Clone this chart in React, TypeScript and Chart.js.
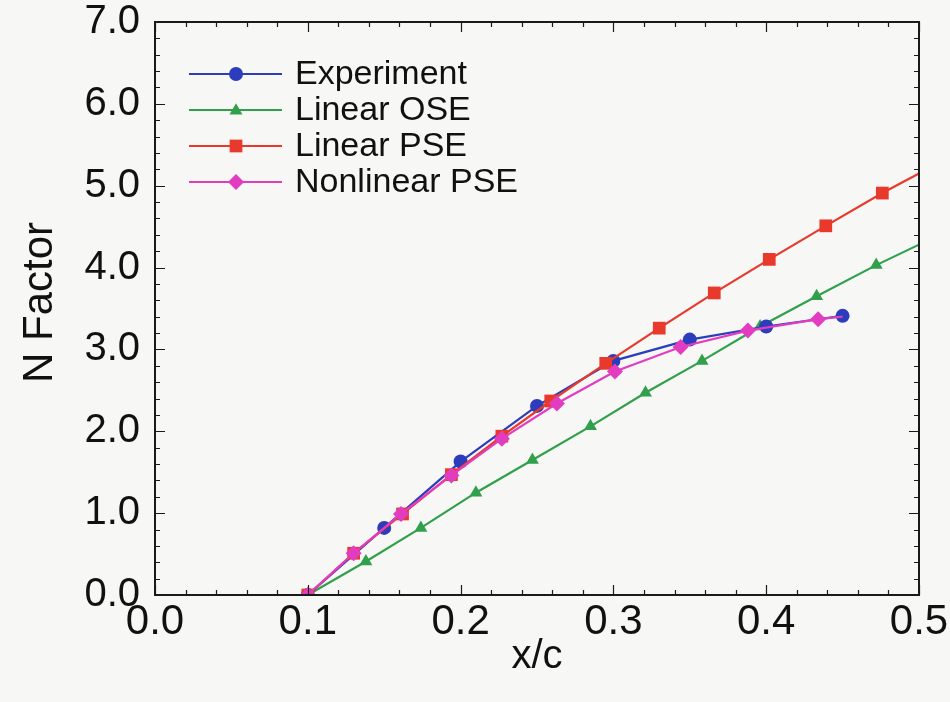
import React, { useEffect, useRef } from "react";
import { Chart, registerables } from "chart.js";

Chart.register(...registerables);

const expX = [0.1, 0.15, 0.2, 0.25, 0.3, 0.35, 0.4, 0.45];
const expY = [0, 0.82, 1.63, 2.31, 2.86, 3.12, 3.28, 3.41];

const oseX = [0.1, 0.138, 0.174, 0.21, 0.247, 0.285, 0.321, 0.358, 0.396, 0.433, 0.472, 0.5];
const oseY = [0, 0.41, 0.82, 1.25, 1.65, 2.06, 2.47, 2.86, 3.28, 3.65, 4.03, 4.28];

const lpseX = [0.1, 0.13, 0.162, 0.194, 0.227, 0.259, 0.295, 0.33, 0.366, 0.402, 0.439, 0.476, 0.5];
const lpseY = [0, 0.51, 0.99, 1.47, 1.94, 2.37, 2.83, 3.26, 3.69, 4.1, 4.51, 4.91, 5.15];

const npseX = [0.1, 0.13, 0.161, 0.194, 0.227, 0.263, 0.301, 0.344, 0.388, 0.434, 0.45];
const npseY = [0, 0.51, 0.99, 1.46, 1.91, 2.34, 2.73, 3.03, 3.23, 3.37, 3.4];

const seriesNames = ["Experiment", "Linear OSE", "Linear PSE", "Nonlinear PSE"];
const xTickValues = [0, 0.1, 0.2, 0.3, 0.4, 0.5];
const yTickValues = [0, 1, 2, 3, 4, 5, 6, 7];
const xTitle = "x/c";
const yTitle = "N Factor";

const FONT = "'Liberation Sans', Arial, Helvetica, sans-serif";

type SeriesStyle = { color: string; shape: string; radius: number; lastBare: boolean; order: number };
const styles: SeriesStyle[] = [
  { color: "#2b3cbc", shape: "circle", radius: 7, lastBare: false, order: 2 },
  { color: "#31a04c", shape: "triangle", radius: 7.5, lastBare: true, order: 3 },
  { color: "#e8392c", shape: "rect", radius: 9, lastBare: true, order: 1 },
  { color: "#e23dc0", shape: "rectRot", radius: 8, lastBare: true, order: 0 },
];

function pts(xs: number[], ys: number[]) {
  return xs.map((x, i) => ({ x, y: ys[i] }));
}

function drawMarker(ctx: CanvasRenderingContext2D, shape: string, x: number, y: number, r: number, color: string) {
  ctx.save();
  ctx.fillStyle = color;
  ctx.beginPath();
  if (shape === "circle") {
    ctx.arc(x, y, r, 0, Math.PI * 2);
  } else if (shape === "triangle") {
    const a = (Math.PI * 2) / 3;
    for (let k = 0; k < 3; k++) {
      const ang = -Math.PI / 2 + k * a;
      const px = x + r * Math.cos(ang);
      const py = y + r * Math.sin(ang) + r * 0.1;
      if (k === 0) ctx.moveTo(px, py);
      else ctx.lineTo(px, py);
    }
    ctx.closePath();
  } else if (shape === "rect") {
    const s = r * Math.SQRT1_2;
    ctx.rect(x - s, y - s, 2 * s, 2 * s);
  } else {
    ctx.moveTo(x, y - r);
    ctx.lineTo(x + r, y);
    ctx.lineTo(x, y + r);
    ctx.lineTo(x - r, y);
    ctx.closePath();
  }
  ctx.fill();
  ctx.restore();
}

const framePlugin = {
  id: "frameTicks",
  afterDraw(chart: any) {
    const ctx: CanvasRenderingContext2D = chart.ctx;
    const { left, right, top, bottom } = chart.chartArea;
    const xs = chart.scales.x;
    const ys = chart.scales.y;
    ctx.save();
    ctx.strokeStyle = "#1a1a1a";
    ctx.lineWidth = 1.2;
    for (let i = 0; i <= 25; i++) {
      const v = i * 0.02;
      const px = Math.round(xs.getPixelForValue(v)) + 0.5;
      const len = i % 5 === 0 ? 10 : 5;
      ctx.beginPath();
      ctx.moveTo(px, bottom);
      ctx.lineTo(px, bottom - len);
      ctx.moveTo(px, top);
      ctx.lineTo(px, top + len);
      ctx.stroke();
    }
    for (let i = 0; i <= 35; i++) {
      const v = i * 0.2;
      const py = Math.round(ys.getPixelForValue(v)) + 0.5;
      const len = i % 5 === 0 ? 10 : 5;
      ctx.beginPath();
      ctx.moveTo(left, py);
      ctx.lineTo(left + len, py);
      ctx.moveTo(right, py);
      ctx.lineTo(right - len, py);
      ctx.stroke();
    }
    ctx.lineWidth = 2;
    ctx.strokeRect(left, top, right - left, bottom - top);

    // y axis title
    ctx.save();
    ctx.translate(40, (top + bottom) / 2 - 6);
    ctx.rotate(-Math.PI / 2);
    ctx.font = `42px ${FONT}`;
    ctx.fillStyle = "#111";
    ctx.textAlign = "center";
    ctx.textBaseline = "middle";
    ctx.fillText(yTitle, 0, 0);
    ctx.restore();

    // legend
    const lx0 = left + 34;
    const lx1 = left + 127;
    const mx = left + 81;
    const tx = left + 140;
    const ly0 = top + 52;
    const dy = 36;
    ctx.font = `34px ${FONT}`;
    ctx.textBaseline = "middle";
    ctx.textAlign = "left";
    seriesNames.forEach((name, i) => {
      const st = styles[i];
      const yy = ly0 + i * dy;
      ctx.strokeStyle = st.color;
      ctx.lineWidth = 2.2;
      ctx.beginPath();
      ctx.moveTo(lx0, yy);
      ctx.lineTo(lx1, yy);
      ctx.stroke();
      drawMarker(ctx, st.shape, mx, yy, st.radius, st.color);
      ctx.fillStyle = "#111";
      ctx.fillText(name, tx, yy + 1);
    });
    ctx.restore();
  },
};

export default function App() {
  const ref = useRef<HTMLCanvasElement | null>(null);
  useEffect(() => {
    if (!ref.current) return;
    const sets = [pts(expX, expY), pts(oseX, oseY), pts(lpseX, lpseY), pts(npseX, npseY)];
    const chart = new Chart(ref.current, {
      type: "line",
      data: {
        datasets: sets.map((d, i) => {
          const st = styles[i];
          const n = d.length;
          return {
            label: seriesNames[i],
            data: d,
            borderColor: st.color,
            backgroundColor: st.color,
            borderWidth: 2.2,
            pointStyle: st.shape as any,
            pointRadius: (c: any) => (st.lastBare && c.dataIndex === n - 1 ? 0 : st.radius),
            pointBorderWidth: 0,
            pointBackgroundColor: st.color,
            tension: 0,
            fill: false,
            order: st.order,
          };
        }),
      },
      options: {
        animation: false,
        responsive: false,
        layout: { padding: { left: 0, top: 22, right: 31, bottom: 0 } },
        plugins: { legend: { display: false }, tooltip: { enabled: false } },
        scales: {
          x: {
            type: "linear",
            min: 0,
            max: 0.5,
            afterBuildTicks: (s: any) => {
              s.ticks = xTickValues.map((v) => ({ value: v }));
            },
            afterFit: (s: any) => {
              s.height = 107;
              s.paddingLeft = 0;
              s.paddingRight = 0;
            },
            ticks: {
              callback: (v: any) => Number(v).toFixed(1),
              font: { family: FONT, size: 42 },
              color: "#111",
              padding: 2,
              maxRotation: 0,
              autoSkip: false,
            },
            grid: { display: false, drawTicks: false },
            border: { display: false },
            title: {
              display: true,
              text: xTitle,
              font: { family: FONT, size: 40 },
              color: "#111",
              padding: { top: 0, bottom: 21 },
            },
          },
          y: {
            type: "linear",
            min: 0,
            max: 7,
            afterBuildTicks: (s: any) => {
              s.ticks = yTickValues.map((v) => ({ value: v }));
            },
            afterFit: (s: any) => {
              s.width = 155;
              s.paddingTop = 0;
              s.paddingBottom = 0;
            },
            ticks: {
              callback: (v: any) => Number(v).toFixed(1),
              font: { family: FONT, size: 40 },
              color: "#111",
              padding: 15,
              autoSkip: false,
            },
            grid: { display: false, drawTicks: false },
            border: { display: false },
            title: { display: false },
          },
        },
      },
      plugins: [framePlugin],
    });
    return () => chart.destroy();
  }, []);
  return (
    <div style={{ position: "fixed", left: 0, top: 0, width: 950, height: 702, background: "#f7f7f5" }}>
      <canvas ref={ref} width={950} height={702} style={{ display: "block" }} />
    </div>
  );
}
